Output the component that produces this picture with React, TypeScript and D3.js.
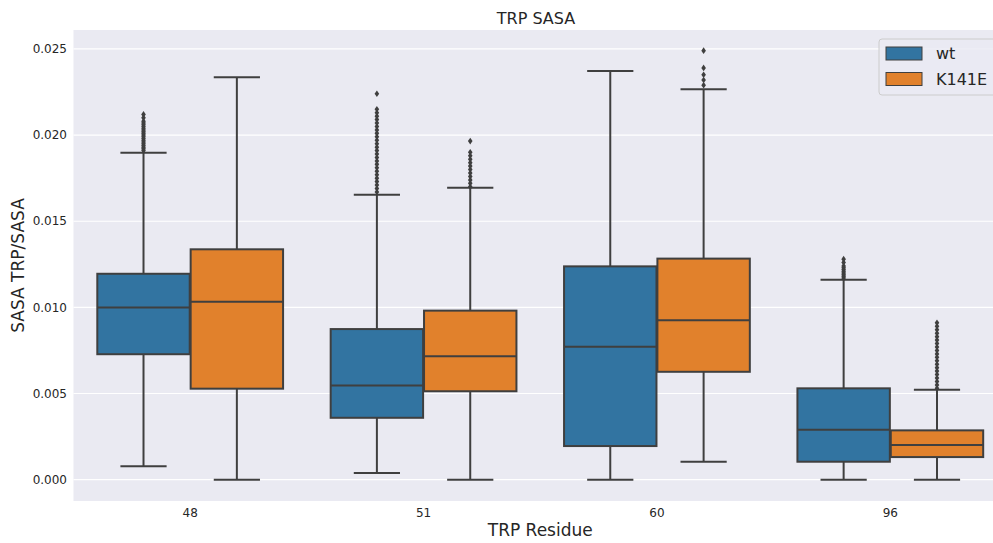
import React from "react";
import * as d3 from "d3";

// Residues on the x axis and the two hue groups
const residues = ["48", "51", "60", "96"];
const groups = ["wt", "K141E"];
const groupColors = ["#3274a1", "#e1812c"];

// Box statistics per residue: [whiskerLow, q1, median, q3, whiskerHigh]
const wtStats = [
  [0.00077, 0.00728, 0.00999, 0.01195, 0.01898],
  [0.00039, 0.00359, 0.00547, 0.00874, 0.01654],
  [0.0, 0.00195, 0.00772, 0.01238, 0.02372],
  [0.0, 0.00104, 0.0029, 0.0053, 0.01161],
];
const k141eStats = [
  [0.0, 0.00528, 0.01033, 0.01337, 0.02336],
  [0.0, 0.00513, 0.00716, 0.00981, 0.01695],
  [0.00104, 0.00626, 0.00925, 0.01283, 0.02266],
  [0.0, 0.00131, 0.00201, 0.00286, 0.00522],
];

// Flier points per residue
const wtOutliers = [
  [0.0191, 0.0192, 0.0193, 0.0194, 0.0195, 0.0196, 0.0197, 0.0198, 0.0199, 0.02, 0.0201, 0.0202, 0.0203, 0.0204, 0.0205, 0.0206, 0.0207, 0.0208, 0.021, 0.0212],
  [0.0167, 0.0169, 0.0171, 0.0173, 0.0175, 0.0177, 0.0179, 0.0181, 0.0183, 0.0185, 0.0187, 0.0189, 0.0191, 0.0193, 0.0195, 0.0197, 0.0199, 0.0201, 0.0203, 0.0205, 0.0207, 0.0209, 0.0211, 0.0213, 0.0215, 0.0224],
  [],
  [0.0117, 0.0118, 0.0119, 0.012, 0.0121, 0.0122, 0.0123, 0.0124, 0.0126, 0.0128],
];
const k141eOutliers = [
  [],
  [0.017, 0.0172, 0.0174, 0.0176, 0.0178, 0.018, 0.0182, 0.0184, 0.0186, 0.0188, 0.019, 0.01965],
  [0.0229, 0.0232, 0.0235, 0.0239, 0.0249],
  [0.0053, 0.0055, 0.0057, 0.0059, 0.0061, 0.0063, 0.0065, 0.0067, 0.0069, 0.0071, 0.0073, 0.0075, 0.0077, 0.0079, 0.0081, 0.0083, 0.0085, 0.0087, 0.0089, 0.0091],
];

const yTicks = [0, 0.005, 0.01, 0.015, 0.02, 0.025];

const W = 993;
const H = 543;
const plot = { left: 73.5, right: 1007, top: 30, bottom: 501 };
const LINE = "#3f3f3f";
const FONT = "DejaVu Sans, sans-serif";

export default function App() {
  const x = d3.scaleBand<string>().domain(residues).range([plot.left, plot.right]).padding(0);
  const y = d3.scaleLinear().domain([-0.00124, 0.0261]).range([plot.bottom, plot.top]);
  const bw = x.bandwidth();
  const hue = d3.scaleBand<string>().domain(groups).range([-0.4 * bw, 0.4 * bw]).padding(0);
  const boxW = hue.bandwidth() * 0.99;

  const allStats = [wtStats, k141eStats];
  const allOut = [wtOutliers, k141eOutliers];

  const diamond = (cx: number, cy: number) =>
    `M${cx},${cy - 3.3}L${cx + 2.3},${cy}L${cx},${cy + 3.3}L${cx - 2.3},${cy}Z`;

  return (
    <svg
      width={W}
      height={H}
      style={{ position: "absolute", left: 0, top: 0, background: "#ffffff" }}
      fontFamily={FONT}
    >
      <rect x={plot.left} y={plot.top} width={plot.right - plot.left} height={plot.bottom - plot.top} fill="#eaeaf2" />
      {yTicks.map((t) => (
        <g key={t}>
          <line x1={plot.left} x2={plot.right} y1={y(t)} y2={y(t)} stroke="#ffffff" strokeWidth={1.2} />
          <text x={67} y={y(t)} dy="0.35em" textAnchor="end" fontSize={12} fill="#262626">
            {d3.format(".3f")(t)}
          </text>
        </g>
      ))}
      {residues.map((r) => (
        <text key={r} x={(x(r) ?? 0) + bw / 2} y={517} textAnchor="middle" fontSize={12} fill="#262626">
          {r}
        </text>
      ))}

      {groups.map((g, gi) =>
        residues.map((r, ri) => {
          const [lo, q1, med, q3, hi] = allStats[gi][ri];
          const cx = (x(r) ?? 0) + bw / 2 + (hue(g) ?? 0) + hue.bandwidth() / 2;
          const capHalf = boxW / 4;
          return (
            <g key={g + r}>
              <line x1={cx} x2={cx} y1={y(hi)} y2={y(q3)} stroke={LINE} strokeWidth={2} />
              <line x1={cx} x2={cx} y1={y(q1)} y2={y(lo)} stroke={LINE} strokeWidth={2} />
              <line x1={cx - capHalf} x2={cx + capHalf} y1={y(hi)} y2={y(hi)} stroke={LINE} strokeWidth={2} />
              <line x1={cx - capHalf} x2={cx + capHalf} y1={y(lo)} y2={y(lo)} stroke={LINE} strokeWidth={2} />
              <rect
                x={cx - boxW / 2}
                y={y(q3)}
                width={boxW}
                height={y(q1) - y(q3)}
                fill={groupColors[gi]}
                stroke={LINE}
                strokeWidth={2}
              />
              <line x1={cx - boxW / 2} x2={cx + boxW / 2} y1={y(med)} y2={y(med)} stroke={LINE} strokeWidth={2} />
              {allOut[gi][ri].map((v, k) => (
                <path key={k} d={diamond(cx, y(v))} fill={LINE} />
              ))}
            </g>
          );
        })
      )}

      <text x={536} y={24} textAnchor="middle" fontSize={16} fill="#262626">
        TRP SASA
      </text>
      <text x={(plot.left + plot.right) / 2} y={536} textAnchor="middle" fontSize={17} fill="#262626">
        TRP Residue
      </text>
      <text
        transform={`translate(24, ${(plot.top + plot.bottom) / 2}) rotate(-90)`}
        textAnchor="middle"
        fontSize={17}
        fill="#262626"
      >
        SASA TRP/SASA
      </text>

      {/* legend */}
      <g>
        <rect x={879} y={39} width={140} height={56} rx={3} fill="#eaeaf2" fillOpacity={0.8} stroke="#cccccc" strokeWidth={1} />
        {groups.map((g, gi) => (
          <g key={g} transform={`translate(886, ${47 + gi * 25.5})`}>
            <rect x={0} y={0} width={36} height={13} fill={groupColors[gi]} stroke={LINE} strokeWidth={1} />
            <text x={50} y={6.5} dy="0.36em" fontSize={16} fill="#262626">
              {g}
            </text>
          </g>
        ))}
      </g>
    </svg>
  );
}
